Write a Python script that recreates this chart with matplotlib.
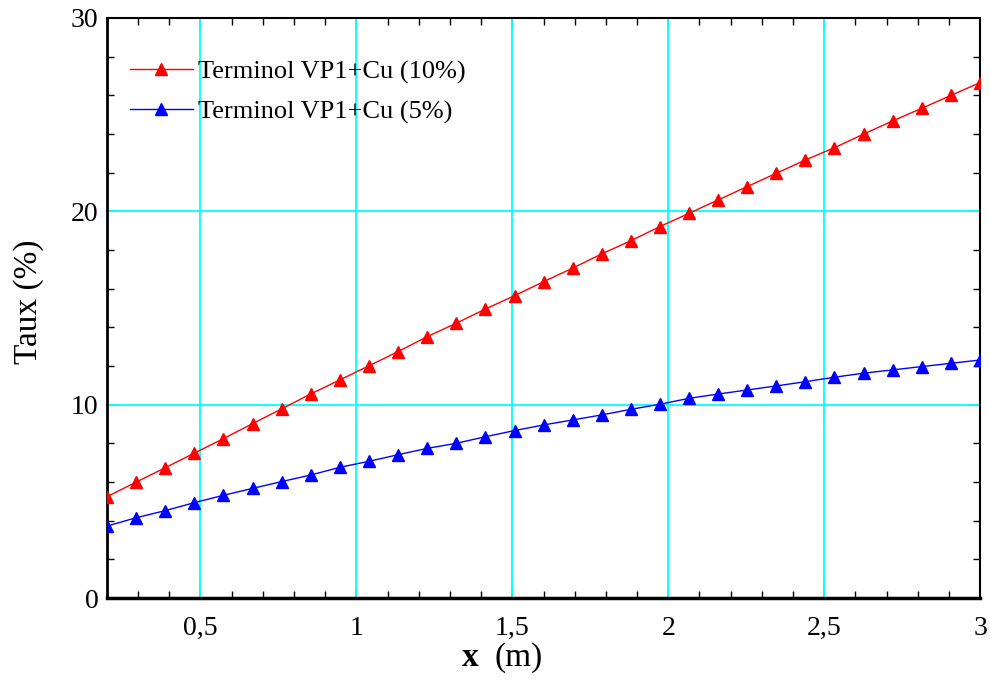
import matplotlib.pyplot as plt
from matplotlib.ticker import MultipleLocator, FuncFormatter

plt.rcParams['font.family'] = ['Liberation Serif', 'DejaVu Serif']

# positions along the tube (m)
x_m = [0.200, 0.293, 0.387, 0.480, 0.573, 0.667, 0.760, 0.853, 0.947, 1.040,
       1.133, 1.227, 1.320, 1.413, 1.507, 1.600, 1.693, 1.787, 1.880, 1.973,
       2.067, 2.160, 2.253, 2.347, 2.440, 2.533, 2.627, 2.720, 2.813, 2.907,
       3.000]

# Taux (%) for each nanofluid
taux_10 = [5.24, 5.99, 6.74, 7.49, 8.24, 9.02, 9.78, 10.55, 11.28, 12.01,
           12.74, 13.52, 14.21, 14.94, 15.64, 16.36, 17.06, 17.80, 18.48, 19.21,
           19.90, 20.59, 21.28, 21.97, 22.66, 23.29, 24.00, 24.68, 25.33, 26.00,
           26.66]
taux_5 = [3.72, 4.15, 4.52, 4.93, 5.31, 5.67, 6.02, 6.36, 6.76, 7.07,
          7.41, 7.74, 8.00, 8.34, 8.66, 8.95, 9.21, 9.47, 9.76, 10.02,
          10.33, 10.55, 10.76, 10.97, 11.19, 11.42, 11.63, 11.80, 11.97, 12.14,
          12.31]

labels = ['Terminol VP1+Cu (10%)', 'Terminol VP1+Cu (5%)']

fig = plt.figure(figsize=(9.9, 7), dpi=100)
ax = fig.add_axes([0.108, 0.1457, 0.882, 0.8286])

ax.plot(x_m, taux_10, color='red', lw=1.0, marker='^', ms=8, label=labels[0], zorder=3)
ax.plot(x_m, taux_5, color='blue', lw=1.0, marker='^', ms=8, label=labels[1], zorder=3)

ax.set_xlim(0.2, 3)
ax.set_ylim(0, 30)
ax.xaxis.set_major_locator(MultipleLocator(0.5))
ax.xaxis.set_minor_locator(MultipleLocator(0.1))
ax.yaxis.set_major_locator(MultipleLocator(10))
ax.yaxis.set_minor_locator(MultipleLocator(2))
ax.xaxis.set_major_formatter(FuncFormatter(lambda v, p: f'{v:g}'.replace('.', ',')))

# cyan grid; major ticks coloured like the grid so lines run edge to edge
ax.grid(True, which='major', color='#00FFFF', lw=1.3, zorder=1)
ax.tick_params(which='both', direction='in', top=True, right=True, labelsize=20)
ax.tick_params(which='major', length=8, color='#00FFFF', width=1.3)
ax.tick_params(which='minor', length=5, color='black', width=1)
ax.tick_params(axis='x', pad=13)
ax.tick_params(axis='y', pad=6)
for s in ax.spines.values():
    s.set_linewidth(1.5)
ax.spines['left'].set_linewidth(2)
ax.spines['bottom'].set_linewidth(2.5)

ax.text(-0.0893, 0.510, 'Taux (%)', transform=ax.transAxes, rotation=90,
        ha='center', va='center', fontsize=24)
ax.text(0.425, -0.103, 'x', transform=ax.transAxes, ha='right', va='center',
        fontsize=24, fontweight='bold')
ax.text(0.444, -0.103, '(m)', transform=ax.transAxes, ha='left', va='center',
        fontsize=24)

ax.legend(loc='upper left', bbox_to_anchor=(0.026, 0.928), frameon=False,
          fontsize=19, handlelength=2.4, handletextpad=0.2, labelspacing=0.62,
          borderaxespad=0, borderpad=0)

fig.savefig('out.png', dpi=100)
